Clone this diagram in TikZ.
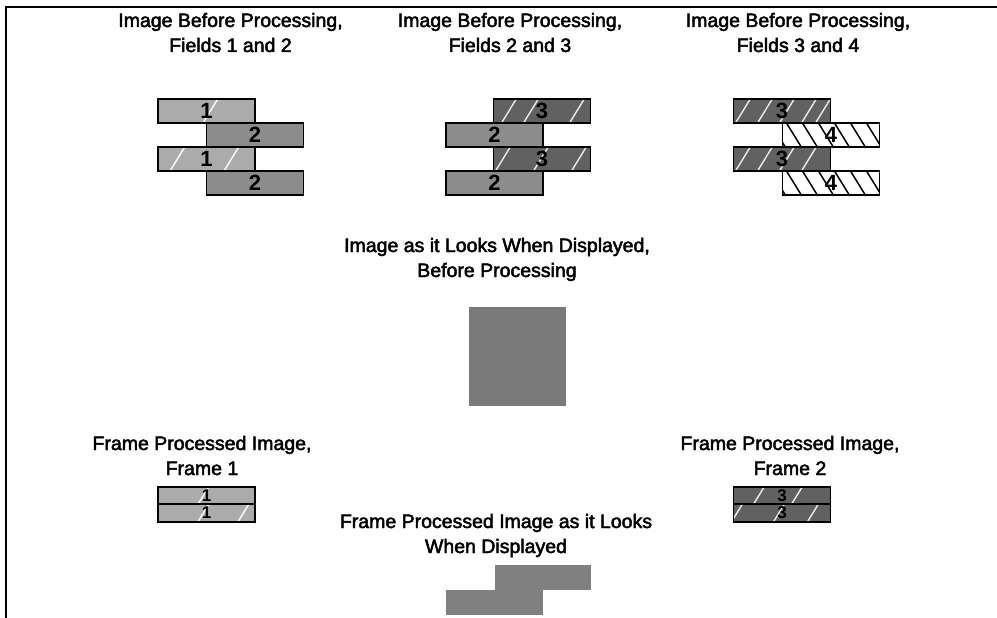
\documentclass[tikz,border=0pt]{standalone}
\usepackage{fontspec}
\setmainfont{Liberation Sans}
\newfontfamily\heavyfont{Liberation Sans}[FakeBold=2.5]
\begin{document}
\begin{tikzpicture}[x=1pt,y=-1pt,
  ttl/.style={anchor=base, inner sep=0pt, font=\heavyfont\fontsize{19.5}{25}\selectfont},
  bar/.style={draw=black, line width=1.8pt, minimum width=97pt, minimum height=24pt, inner sep=0pt, font=\bfseries\fontsize{22}{22}\selectfont},
  fone/.style={bar, fill=black!33, path picture={\foreach \o in {#1}{\draw[white, line width=1.4pt] ([xshift=\o pt]path picture bounding box.south west) -- ++(16,-26);}}},
  ftwo/.style={bar, fill=black!45},
  fthree/.style={bar, fill=black!62, path picture={\foreach \o in {#1}{\draw[white!85!gray, line width=1.4pt] ([xshift=\o pt]path picture bounding box.south west) -- ++(16,-26);}}},
  ffour/.style={bar, fill=white, path picture={\foreach \o in {-12,4,...,100}{\draw[black, line width=1.5pt] ([xshift=\o pt]path picture bounding box.north west) -- ++(16,26);}}},
  short/.style={minimum height=17.5pt, font=\bfseries\fontsize{17}{17}\selectfont},
  flat/.style={fill=black!50, draw=none, inner sep=0pt},
]
\useasboundingbox (0,0) rectangle (997,618);
% frame
\coordinate (bl) at (6,618);
\coordinate (tl) at (6,7);
\coordinate (tr) at (997,7);
\draw[line width=2.2pt] (bl) -- (tl) -- (tr);

% titles
\node[ttl] (t1a) at (230.5,27) {Image Before Processing,};
\node[ttl] (t1b) at (230.5,52) {Fields 1 and 2};
\node[ttl] (t2a) at (510,27) {Image Before Processing,};
\node[ttl] (t2b) at (510,52) {Fields 2 and 3};
\node[ttl] (t3a) at (798,27) {Image Before Processing,};
\node[ttl] (t3b) at (798,52) {Fields 3 and 4};

% group 1
\node[fone={45}] (g1a) at (206.5,111) {1};
\node[ftwo] (g1b) at (255,135) {2};
\node[fone={12,66}] (g1c) at (206.5,159) {1};
\node[ftwo] (g1d) at (255,183) {2};

% group 2
\node[fthree={8,30,76}] (g2a) at (542,111) {3};
\node[ftwo] (g2b) at (494.5,135) {2};
\node[fthree={2,40,78}] (g2c) at (542,159) {3};
\node[ftwo] (g2d) at (494.5,183) {2};

% group 3
\node[fthree={2,24,46,68,82}] (g3a) at (782,111) {3};
\node[ffour] (g3b) at (831,135) {4};
\node[fthree={2,24,46,68}] (g3c) at (782,159) {3};
\node[ffour] (g3d) at (831,183) {4};

% displayed before processing
\node[ttl] (m1) at (497,252) {Image as it Looks When Displayed,};
\node[ttl] (m2) at (497,277) {Before Processing};
\node[flat, fill=black!52, minimum width=97pt, minimum height=99pt] (sq) at (517.5,356.5) {};

% frame 1
\node[ttl] (f1a) at (202,450) {Frame Processed Image,};
\node[ttl] (f1b) at (202,475) {Frame 1};
\node[fone={40}, short] (fr1a) at (206.5,495.5) {1};
\node[fone={40,80}, short] (fr1b) at (206.5,513) {1};

% frame 2
\node[ttl] (f2a) at (790,450) {Frame Processed Image,};
\node[ttl] (f2b) at (790,475) {Frame 2};
\node[fthree={20,58}, short] (fr2a) at (782,495.5) {3};
\node[fthree={-2,40,74}, short] (fr2b) at (782,513) {3};

% frame processed displayed
\node[ttl] (b1) at (496,528) {Frame Processed Image as it Looks};
\node[ttl] (b2) at (496,553) {When Displayed};
\node[flat, minimum width=96pt, minimum height=25pt] (st1) at (543,577.5) {};
\node[flat, minimum width=97pt, minimum height=25pt] (st2) at (494.5,602.5) {};
\end{tikzpicture}
\end{document}
